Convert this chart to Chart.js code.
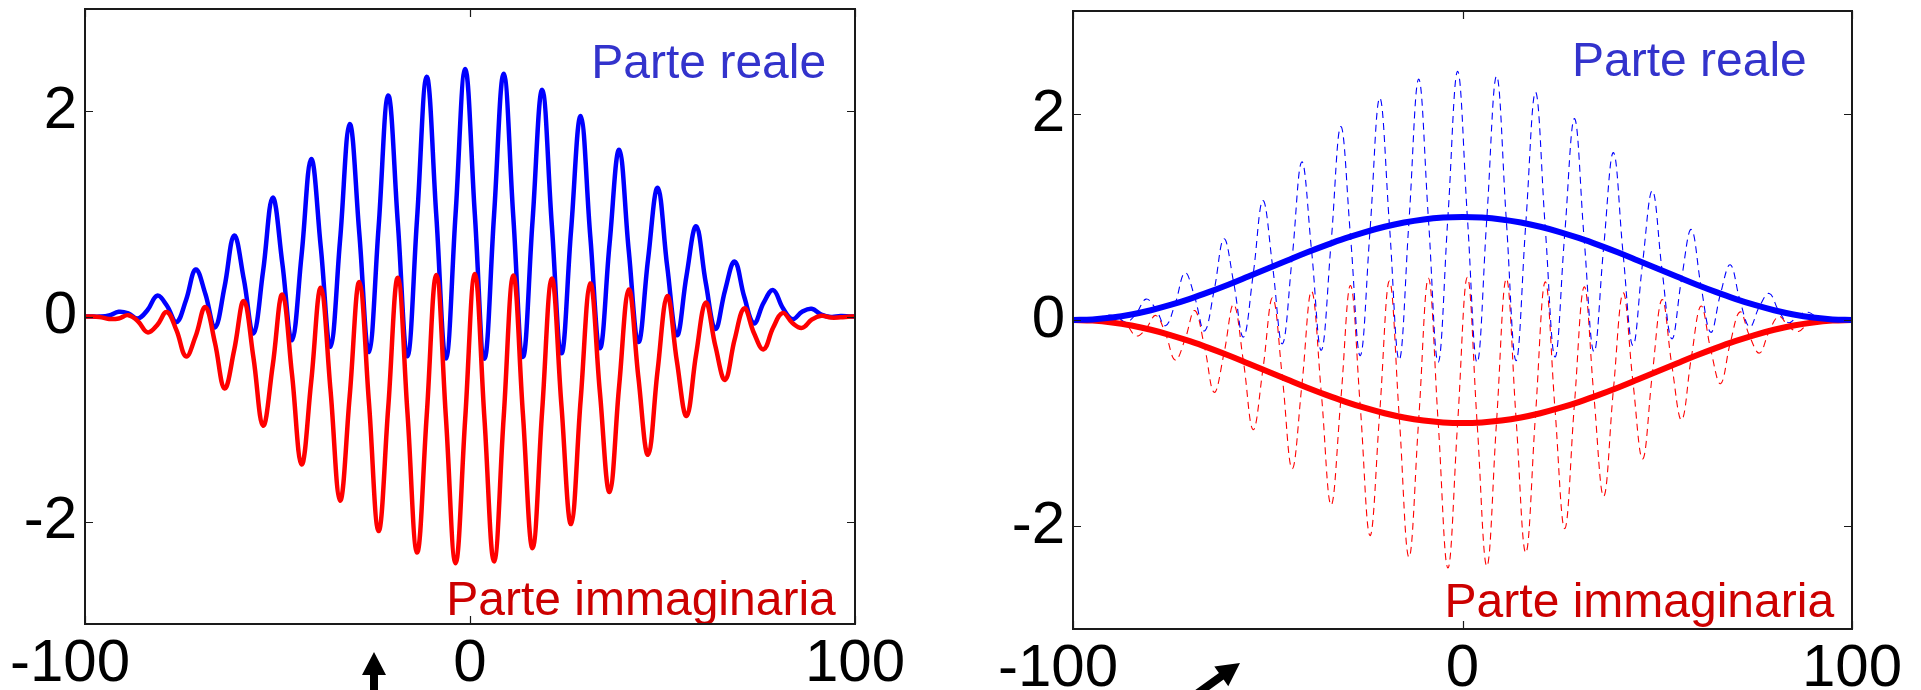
<!DOCTYPE html>
<html>
<head>
<meta charset="utf-8">
<script src="https://cdn.jsdelivr.net/npm/chart.js@4"></script>
<style>
  html, body { margin: 0; padding: 0; background: #fff; }
  body { width: 1921px; height: 690px; position: relative; overflow: hidden; }
  .riquadro { position: absolute; top: 0; height: 690px; }
  #riq-sx { left: 0; width: 960px; }
  #riq-dx { left: 960px; width: 961px; }
</style>
</head>
<body>
<div class="riquadro" id="riq-sx"><canvas id="grafico-sx"></canvas></div>
<div class="riquadro" id="riq-dx"><canvas id="grafico-dx"></canvas></div>
<script>
// campioni del pacchetto d'onda
const ascisse = [-100,
  -98.75, -96.25, -93.75, -91.25, -88.75, -86.25, -83.75, -81.25, -78.75, -76.25,
  -73.75, -71.25, -68.75, -66.25, -63.75, -61.25, -58.75, -56.25, -53.75, -51.25,
  -48.75, -46.25, -43.75, -41.25, -38.75, -36.25, -33.75, -31.25, -28.75, -26.25,
  -23.75, -21.25, -18.75, -16.25, -13.75, -11.25, -8.75, -6.25, -3.75, -1.25,
  1.25, 3.75, 6.25, 8.75, 11.25, 13.75, 16.25, 18.75, 21.25, 23.75,
  26.25, 28.75, 31.25, 33.75, 36.25, 38.75, 41.25, 43.75, 46.25, 48.75,
  51.25, 53.75, 56.25, 58.75, 61.25, 63.75, 66.25, 68.75, 71.25, 73.75,
  76.25, 78.75, 81.25, 83.75, 86.25, 88.75, 91.25, 93.75, 96.25, 98.75,
  100];

const parteReale = [0,
  0.000, -0.001, 0.010, 0.046, 0.031, -0.019, 0.064, 0.203, 0.107, -0.055,
  0.161, 0.459, 0.222, -0.106, 0.291, 0.789, 0.364, -0.166, 0.441, 1.159,
  0.520, -0.231, 0.598, 1.535, 0.673, -0.294, 0.744, 1.878, 0.810, -0.347,
  0.867, 2.156, 0.916, -0.388, 0.954, 2.339, 0.981, -0.410, 0.997, 2.414,
  1.000, -0.413, 0.990, 2.368, 0.969, -0.395, 0.936, 2.211, 0.893, -0.359,
  0.839, 1.955, 0.778, -0.308, 0.709, 1.625, 0.636, -0.248, 0.559, 1.255,
  0.480, -0.183, 0.402, 0.879, 0.327, -0.120, 0.256, 0.536, 0.190, -0.067,
  0.133, 0.258, 0.084, -0.026, 0.046, 0.075, 0.019, -0.004, 0.004, 0.001,
  0];

const parteImmaginaria = [0,
  0.000, -0.004, -0.024, -0.019, 0.013, -0.046, -0.155, -0.084, 0.044, -0.133,
  -0.389, -0.190, 0.092, -0.256, -0.702, -0.327, 0.151, -0.402, -1.065, -0.480,
  0.215, -0.559, -1.444, -0.636, 0.279, -0.709, -1.796, -0.778, 0.335, -0.839,
  -2.093, -0.893, 0.379, -0.936, -2.303, -0.969, 0.406, -0.990, -2.407, -1.000,
  0.414, -0.997, -2.390, -0.981, 0.401, -0.954, -2.260, -0.916, 0.370, -0.867,
  -2.025, -0.810, 0.322, -0.744, -1.712, -0.673, 0.263, -0.598, -1.349, -0.520,
  0.199, -0.441, -0.970, -0.364, 0.135, -0.291, -0.618, -0.222, 0.079, -0.161,
  -0.321, -0.107, 0.035, -0.064, -0.111, -0.031, 0.008, -0.010, -0.008, 0.000,
  0];

// inviluppo (pannello di destra, linee spesse)
const ascisseInviluppo = [-100, -95, -90, -85, -80, -75, -70, -65, -60, -55, -50,
  -45, -40, -35, -30, -25, -20, -15, -10, -5, 0,
  5, 10, 15, 20, 25, 30, 35, 40, 45, 50,
  55, 60, 65, 70, 75, 80, 85, 90, 95, 100];
const inviluppoReale = [0, 0.006, 0.024, 0.054, 0.095, 0.146, 0.206, 0.273, 0.345, 0.422, 0.500,
  0.578, 0.655, 0.727, 0.794, 0.854, 0.905, 0.946, 0.976, 0.994, 1.000,
  0.994, 0.976, 0.946, 0.905, 0.854, 0.794, 0.727, 0.655, 0.578, 0.500,
  0.422, 0.345, 0.273, 0.206, 0.146, 0.095, 0.054, 0.024, 0.006, 0];
const inviluppoImmaginario = [0, -0.006, -0.024, -0.054, -0.095, -0.146, -0.206, -0.273, -0.345, -0.422, -0.500,
  -0.578, -0.655, -0.727, -0.794, -0.854, -0.905, -0.946, -0.976, -0.994, -1.000,
  -0.994, -0.976, -0.946, -0.905, -0.854, -0.794, -0.727, -0.655, -0.578, -0.500,
  -0.422, -0.345, -0.273, -0.206, -0.146, -0.095, -0.054, -0.024, -0.006, 0];

const tickX = [-100, 0, 100];
const tickY = [-2, 0, 2];

const BLU = "#0000ff";
const ROSSO = "#ff0000";
const FONT = '"Liberation Sans", Arial, Helvetica, sans-serif';

function punti(xs, ys) {
  return xs.map((x, i) => ({ x, y: ys[i] }));
}

// cornice con tacche rivolte verso l'interno
const cornice = {
  id: "cornice",
  afterDraw(chart) {
    const { ctx, chartArea: a, scales: { x, y } } = chart;
    ctx.save();
    ctx.strokeStyle = "#1a1a1a";
    ctx.lineWidth = 1.2;
    ctx.beginPath();
    x.ticks.forEach(t => {
      const px = Math.round(x.getPixelForValue(t.value)) + 0.5;
      ctx.moveTo(px, a.top); ctx.lineTo(px, a.top + 8);
      ctx.moveTo(px, a.bottom); ctx.lineTo(px, a.bottom - 8);
    });
    y.ticks.forEach(t => {
      const py = Math.round(y.getPixelForValue(t.value)) + 0.5;
      ctx.moveTo(a.left, py); ctx.lineTo(a.left + 8, py);
      ctx.moveTo(a.right, py); ctx.lineTo(a.right - 8, py);
    });
    ctx.stroke();
    ctx.lineWidth = 2;
    ctx.strokeRect(a.left, a.top, a.right - a.left, a.bottom - a.top);
    ctx.restore();
  }
};

// didascalie dentro il grafico e freccia sotto l'asse
const scritte = {
  id: "scritte",
  afterDatasetsDraw(chart, args, opts) {
    const { ctx, scales: { x, y } } = chart;
    ctx.save();
    ctx.font = "48px " + FONT;
    ctx.textAlign = "right";
    ctx.textBaseline = "alphabetic";
    (opts.testi || []).forEach(t => {
      ctx.fillStyle = t.colore;
      ctx.fillText(t.testo, x.getPixelForValue(t.x), y.getPixelForValue(t.y));
    });
    ctx.restore();
  },
  afterDraw(chart, args, opts) {
    const f = opts.freccia;
    if (!f) return;
    const ctx = chart.ctx;
    ctx.save();
    ctx.translate(f.px, f.py);
    ctx.rotate(f.angolo);
    ctx.fillStyle = "#000";
    ctx.beginPath();
    ctx.moveTo(0, 0);
    ctx.lineTo(-23, -12);
    ctx.lineTo(-23, -4);
    ctx.lineTo(-80, -4);
    ctx.lineTo(-80, 4);
    ctx.lineTo(-23, 4);
    ctx.lineTo(-23, 12);
    ctx.closePath();
    ctx.fill();
    ctx.restore();
  }
};

function scale(larghezzaY, altezzaX) {
  return {
    x: {
      type: "linear", min: -100, max: 100,
      afterBuildTicks: s => { s.ticks = tickX.map(v => ({ value: v })); },
      afterFit: s => { s.height = altezzaX; s.paddingLeft = 0; s.paddingRight = 0; },
      grid: { display: false, drawTicks: false },
      border: { display: false },
      ticks: {
        color: "#000", font: { family: FONT, size: 60 }, padding: 4, maxRotation: 0, autoSkip: false,
        // il segno meno resta fuori dal centraggio, come nell'originale
        callback: v => v < 0 ? v + "\u2002" : String(v)
      }
    },
    y: {
      type: "linear", min: -3, max: 3,
      afterBuildTicks: s => { s.ticks = tickY.map(v => ({ value: v })); },
      afterFit: s => { s.width = larghezzaY; s.paddingTop = 0; s.paddingBottom = 0; },
      grid: { display: false, drawTicks: false },
      border: { display: false },
      ticks: { color: "#000", font: { family: FONT, size: 60 }, padding: 8 }
    }
  };
}

const base = {
  responsive: true,
  maintainAspectRatio: false,
  animation: false,
  devicePixelRatio: 1,
  events: [],
  elements: { point: { radius: 0 } }
};

new Chart(document.getElementById("grafico-sx"), {
  type: "line",
  data: {
    datasets: [
      { data: punti(ascisse, parteImmaginaria), borderColor: ROSSO, borderWidth: 4.5, tension: 0.4 },
      { data: punti(ascisse, parteReale), borderColor: BLU, borderWidth: 4.5, tension: 0.4 }
    ]
  },
  options: {
    ...base,
    layout: { padding: { top: 9, right: 105, left: 0, bottom: 0 } },
    scales: scale(85, 66),
    plugins: {
      legend: { display: false },
      tooltip: { enabled: false },
      scritte: {
        testi: [
          { testo: "Parte reale", colore: "#3333cc", x: 92.5, y: 2.33 },
          { testo: "Parte immaginaria", colore: "#cc0000", x: 95.0, y: -2.91 }
        ],
        freccia: { px: 374, py: 652, angolo: -Math.PI / 2 }
      }
    }
  },
  plugins: [cornice, scritte]
});

new Chart(document.getElementById("grafico-dx"), {
  type: "line",
  data: {
    datasets: [
      { data: punti(ascisseInviluppo, inviluppoReale), borderColor: BLU, borderWidth: 6, tension: 0.4, order: 0 },
      { data: punti(ascisseInviluppo, inviluppoImmaginario), borderColor: ROSSO, borderWidth: 6, tension: 0.4, order: 1 },
      { data: punti(ascisse, parteReale), borderColor: BLU, borderWidth: 1.1, borderDash: [7, 5], tension: 0.4, order: 2 },
      { data: punti(ascisse, parteImmaginaria), borderColor: ROSSO, borderWidth: 1.1, borderDash: [7, 5], tension: 0.4, order: 3 }
    ]
  },
  options: {
    ...base,
    layout: { padding: { top: 11, right: 69, left: 0, bottom: 0 } },
    scales: scale(113, 61),
    plugins: {
      legend: { display: false },
      tooltip: { enabled: false },
      scritte: {
        testi: [
          { testo: "Parte reale", colore: "#3333cc", x: 88.4, y: 2.37 },
          { testo: "Parte immaginaria", colore: "#cc0000", x: 95.4, y: -2.88 }
        ],
        freccia: { px: 280, py: 663, angolo: -0.62 }
      }
    }
  },
  plugins: [cornice, scritte]
});
</script>
</body>
</html>
